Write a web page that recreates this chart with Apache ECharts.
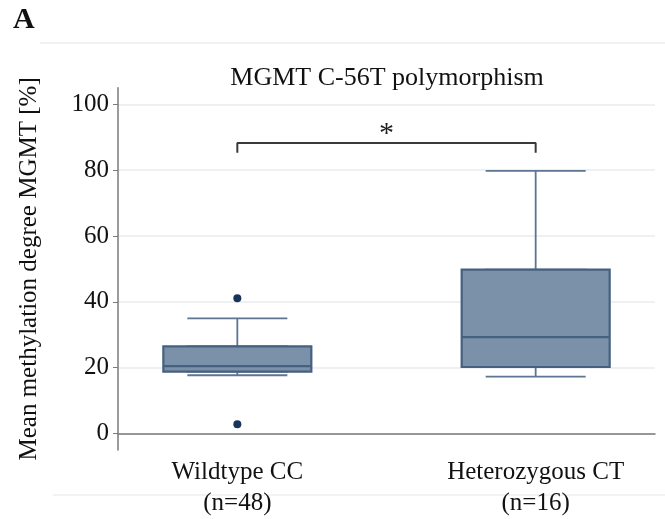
<!DOCTYPE html>
<html>
<head>
<meta charset="utf-8">
<script src="https://cdn.jsdelivr.net/npm/echarts@6/dist/echarts.min.js"></script>
<style>
  html, body { margin: 0; padding: 0; background: #ffffff; }
  #chart { width: 665px; height: 519px; }
</style>
</head>
<body>
<div id="chart"></div>
<script>
// Groups and their sample sizes
const groups = ['Wildtype CC', 'Heterozygous CT'];
const groupSizes = ['(n=48)', '(n=16)'];

// Box statistics (mean methylation degree, %)
const whiskerLow = [17.7, 17.3];
const q1 = [18.8, 20.2];
const median = [20.5, 29.3];
const q3 = [26.5, 49.8];
const whiskerHigh = [35.0, 79.8];

// Outlying observations
const outlierGroup = ['Wildtype CC', 'Wildtype CC'];
const outlierValue = [41.1, 2.8];

// Significance bracket between the two groups
const bracketTop = 88.2;
const bracketFoot = 85.3;
const significanceMark = '*';

const yTicks = [0, 20, 40, 60, 80, 100];

// The x axis is split into evenly spaced slots; the groups sit on two of them
const slotCount = 10;
const groupSlot = [2, 7];
const slots = [];
for (let i = 0; i < slotCount; i++) {
  const g = groupSlot.indexOf(i);
  slots.push(g >= 0 ? groups[g] : 'slot' + i);
}

const FONT = "'Liberation Serif', 'Times New Roman', serif";
const boxColor = '#7b91aa';
const boxBorder = '#46607f';
const whiskerColor = '#5d7593';

const chart = echarts.init(document.getElementById('chart'), null, { renderer: 'canvas' });

const option = {
  animation: false,
  backgroundColor: '#ffffff',
  title: {
    text: 'MGMT C-56T polymorphism',
    left: 382,
    top: 60,
    textAlign: 'center',
    textStyle: { fontFamily: FONT, fontSize: 26, fontWeight: 'normal', color: '#111111' }
  },
  grid: { left: 118, right: 10, top: 87.8, bottom: 68.2, containLabel: false },
  xAxis: [
    {
      type: 'category',
      data: slots,
      boundaryGap: false,
      axisLine: { lineStyle: { color: '#7a7a7a', width: 1.5 } },
      axisTick: { show: false },
      splitLine: { show: false },
      axisLabel: {
        interval: 0,
        margin: 7,
        fontFamily: FONT,
        fontSize: 25,
        lineHeight: 31,
        color: '#111111',
        formatter: function (v) {
          const g = groups.indexOf(v);
          return g >= 0 ? groups[g] + '\n' + groupSizes[g] : '';
        }
      }
    },
    {
      // same slots, used only to lay out the whiskers independently of the boxes
      type: 'category',
      data: slots,
      boundaryGap: false,
      show: false
    }
  ],
  yAxis: {
    type: 'value',
    min: -5,
    max: 105,
    interval: 20,
    name: 'Mean methylation degree MGMT [%]',
    nameLocation: 'middle',
    nameGap: 76,
    nameTextStyle: { fontFamily: FONT, fontSize: 25, color: '#111111' },
    axisLine: { show: true, lineStyle: { color: '#7a7a7a', width: 1.5 } },
    axisTick: { show: true, length: 5, lineStyle: { color: '#7a7a7a' }, customValues: yTicks },
    axisLabel: {
      margin: 9,
      fontFamily: FONT,
      fontSize: 25,
      color: '#111111',
      customValues: yTicks
    },
    splitLine: { show: true, lineStyle: { color: '#e9edf1', width: 1.5 } }
  },
  series: [
    {
      // whiskers with their shorter caps
      type: 'boxplot',
      xAxisIndex: 1,
      encode: { x: 0, y: [1, 2, 3, 4, 5] },
      boxWidth: [100, 100],
      itemStyle: { color: boxColor, borderColor: whiskerColor, borderWidth: 1.8 },
      data: groups.map(function (g, i) {
        return [g, whiskerLow[i], q1[i], median[i], q3[i], whiskerHigh[i]];
      }),
      z: 2
    },
    {
      // interquartile box with median
      type: 'boxplot',
      xAxisIndex: 0,
      encode: { x: 0, y: [1, 2, 3, 4, 5] },
      boxWidth: [148, 148],
      itemStyle: { color: boxColor, borderColor: boxBorder, borderWidth: 2.2 },
      data: groups.map(function (g, i) {
        return [g, q1[i], q1[i], median[i], q3[i], q3[i]];
      }),
      z: 3
    },
    {
      type: 'scatter',
      symbol: 'circle',
      symbolSize: 8,
      itemStyle: { color: '#163559', opacity: 1 },
      data: outlierGroup.map(function (g, i) { return [g, outlierValue[i]]; }),
      z: 4
    },
    {
      type: 'line',
      symbol: 'none',
      lineStyle: { color: '#3a3a3a', width: 2 },
      data: [
        [groups[0], bracketFoot],
        [groups[0], bracketTop],
        [groups[1], bracketTop],
        [groups[1], bracketFoot]
      ],
      z: 4
    }
  ]
};

chart.setOption(option);

// Place the significance mark above the middle of the bracket
const pA = chart.convertToPixel({ gridIndex: 0 }, [groups[0], bracketTop]);
const pB = chart.convertToPixel({ gridIndex: 0 }, [groups[1], bracketTop]);
chart.setOption({
  graphic: [
    {
      type: 'text',
      left: 13,
      top: 5,
      style: { text: 'A', font: "bold 30px " + FONT, fill: '#111111' }
    },
    {
      type: 'line',
      shape: { x1: 40, y1: 43, x2: 665, y2: 43 },
      style: { stroke: '#f1f1f1', lineWidth: 2 },
      silent: true
    },
    {
      type: 'line',
      shape: { x1: 53, y1: 495, x2: 665, y2: 495 },
      style: { stroke: '#f3f3f3', lineWidth: 2 },
      silent: true
    },
    {
      type: 'text',
      x: (pA[0] + pB[0]) / 2,
      y: pA[1] + 6,
      style: {
        text: significanceMark,
        font: "30px " + FONT,
        fill: '#222222',
        align: 'center',
        verticalAlign: 'bottom'
      }
    }
  ]
});
</script>
</body>
</html>
